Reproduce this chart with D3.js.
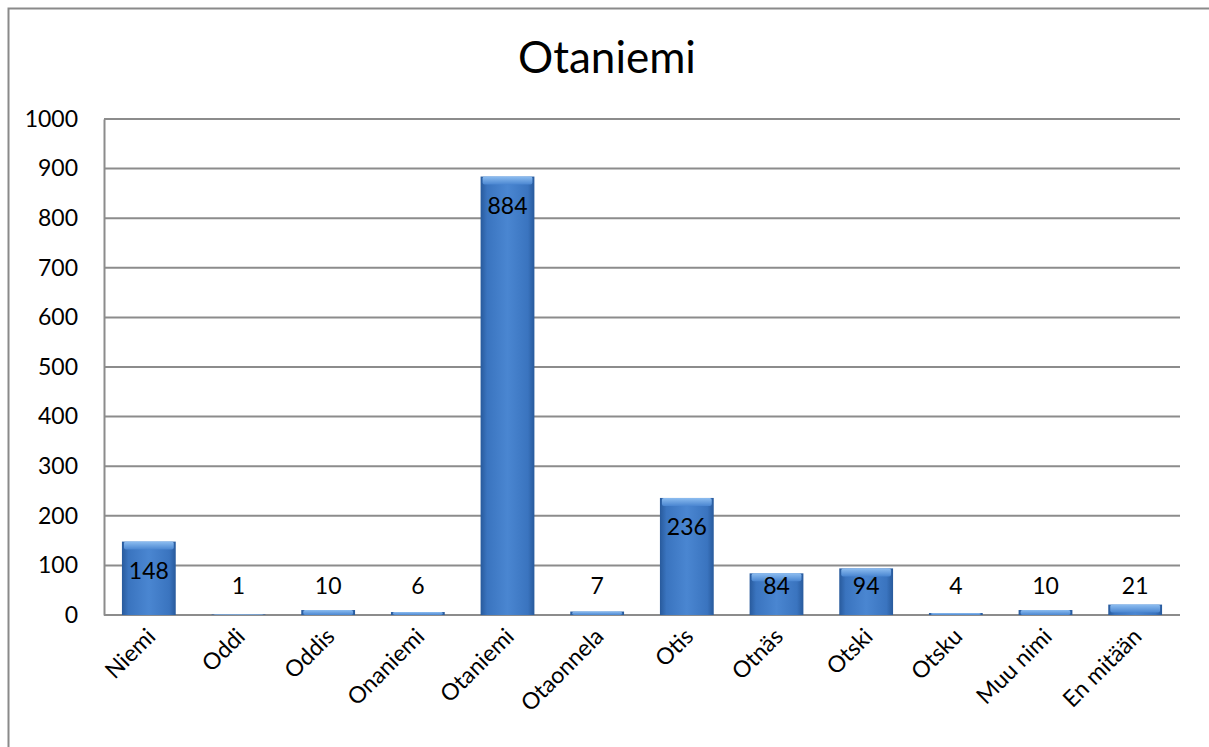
<!DOCTYPE html>
<html>
<head>
<meta charset="utf-8">
<script src="https://cdn.jsdelivr.net/npm/d3@7/dist/d3.min.js"></script>
<style>
  html, body { margin: 0; padding: 0; background: #fff; }
  svg { display: block; }
  text { font-family: Lato, "Noto Sans", sans-serif; fill: #000; }
</style>
</head>
<body>
<svg id="chart" width="1209" height="747"></svg>
<script>
// Survey answers: what people call Otaniemi
const categories = ["Niemi", "Oddi", "Oddis", "Onaniemi", "Otaniemi", "Otaonnela",
                    "Otis", "Otnäs", "Otski", "Otsku", "Muu nimi", "En mitään"];
const values = [148, 1, 10, 6, 884, 7, 236, 84, 94, 4, 10, 21];
const yTicks = [0, 100, 200, 300, 400, 500, 600, 700, 800, 900, 1000];
const chartTitle = "Otaniemi";

const svg = d3.select("#chart");
const W = 1209, H = 747;
const plot = { left: 104, right: 1180, top: 119, bottom: 615 };

// outer chart frame
svg.append("rect")
  .attr("x", 8.5).attr("y", 8.5)
  .attr("width", W + 20).attr("height", H + 20)
  .attr("fill", "#fff").attr("stroke", "#8a8a8a").attr("stroke-width", 2);

svg.append("text")
  .attr("x", 607).attr("y", 73)
  .attr("text-anchor", "middle")
  .attr("font-size", 44)
  .text(chartTitle);

const x = d3.scaleBand().domain(categories).range([plot.left, plot.right]).paddingInner(0.4).paddingOuter(0.2);
const y = d3.scaleLinear().domain([0, 1000]).range([plot.bottom, plot.top]);

// gradients for the bevelled bars
const defs = svg.append("defs");
const gH = defs.append("linearGradient").attr("id", "barH").attr("x1", "0").attr("x2", "1").attr("y1", "0").attr("y2", "0");
[[0, "#285a9c"], [0.12, "#3a74bf"], [0.5, "#4a86d1"], [0.88, "#3a74bf"], [1, "#285a9c"]]
  .forEach(([o, c]) => gH.append("stop").attr("offset", o).attr("stop-color", c));
const gTop = defs.append("linearGradient").attr("id", "barTop").attr("x1", "0").attr("x2", "0").attr("y1", "0").attr("y2", "1");
[[0, "#8dbdf0"], [1, "#4a86d1"]].forEach(([o, c]) => gTop.append("stop").attr("offset", o).attr("stop-color", c));

// gridlines
const grid = svg.append("g");
grid.selectAll("line").data(yTicks).join("line")
  .attr("x1", plot.left).attr("x2", plot.right)
  .attr("y1", d => y(d)).attr("y2", d => y(d))
  .attr("stroke", "#8c8c8c").attr("stroke-width", 2);

// y axis
const yAxis = svg.append("g")
  .attr("transform", `translate(${plot.left},0)`)
  .call(d3.axisLeft(y).tickValues(yTicks).tickSize(0).tickPadding(26).tickFormat(d3.format("d")));
yAxis.select(".domain").attr("stroke", "#8c8c8c").attr("stroke-width", 2);
yAxis.selectAll("text").attr("font-size", 23).attr("font-family", "Lato, 'Noto Sans', sans-serif").attr("fill", "#000");

// bars
const bars = svg.append("g").selectAll("g").data(categories).join("g");
bars.append("rect")
  .attr("x", d => x(d))
  .attr("y", (d, i) => y(values[i]))
  .attr("width", x.bandwidth())
  .attr("height", (d, i) => y(0) - y(values[i]))
  .attr("fill", "url(#barH)");
bars.append("rect")
  .attr("x", d => x(d) + 2)
  .attr("y", (d, i) => y(values[i]))
  .attr("width", x.bandwidth() - 4)
  .attr("height", (d, i) => Math.min(8, y(0) - y(values[i])))
  .attr("rx", 2)
  .attr("fill", "url(#barTop)");

// value labels
svg.append("g").selectAll("text").data(categories).join("text")
  .attr("x", d => x(d) + x.bandwidth() / 2)
  .attr("y", (d, i) => Math.min(y(values[i]) + 29, 586))
  .attr("dy", "0.35em")
  .attr("text-anchor", "middle")
  .attr("font-size", 23)
  .text((d, i) => values[i]);

// rotated category labels
svg.append("g").selectAll("text").data(categories).join("text")
  .attr("transform", d => `translate(${x(d) + x.bandwidth() / 2 + 8},${638}) rotate(-45)`)
  .attr("text-anchor", "end")
  .attr("font-size", 23)
  .text(d => d);
</script>
</body>
</html>
